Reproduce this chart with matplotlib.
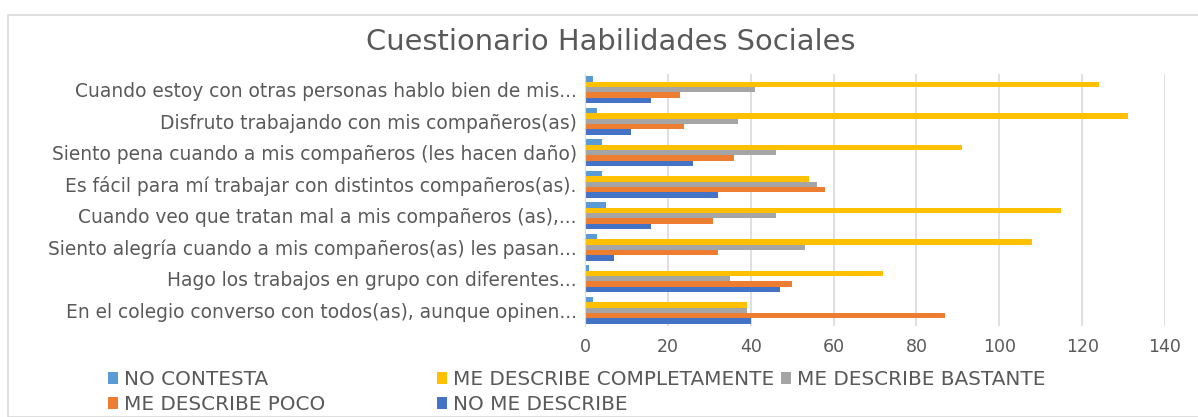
import numpy as np
import matplotlib.pyplot as plt
from matplotlib.patches import Rectangle

preguntas = [
    'Cuando estoy con otras personas hablo bien de mis...',
    'Disfruto trabajando con mis compañeros(as)',
    'Siento pena cuando a mis compañeros (les hacen daño)',
    'Es fácil para mí trabajar con distintos compañeros(as).',
    'Cuando veo que tratan mal a mis compañeros (as),...',
    'Siento alegría cuando a mis compañeros(as) les pasan...',
    'Hago los trabajos en grupo con diferentes...',
    'En el colegio converso con todos(as), aunque opinen...',
]
no_contesta = [2, 3, 4, 4, 5, 3, 1, 2]
completamente = [124, 131, 91, 54, 115, 108, 72, 39]
bastante = [41, 37, 46, 56, 46, 53, 35, 39]
poco = [23, 24, 36, 58, 31, 32, 50, 87]
no_me_describe = [16, 11, 26, 32, 16, 7, 47, 40]

series = [
    ('NO CONTESTA', no_contesta, '#5B9BD5'),
    ('ME DESCRIBE COMPLETAMENTE', completamente, '#FFC000'),
    ('ME DESCRIBE BASTANTE', bastante, '#A5A5A5'),
    ('ME DESCRIBE POCO', poco, '#ED7D31'),
    ('NO ME DESCRIBE', no_me_describe, '#4472C4'),
]

txt = '#595959'
plt.rcParams['font.family'] = 'DejaVu Sans'
fig = plt.figure(figsize=(11.98, 4.17), dpi=100)
ax = fig.add_axes([585/1198, 1 - 326/417, 580/1198, 252/417])

y = np.arange(len(preguntas))
h = 0.17
handles = {}
for i, (name, vals, col) in enumerate(series):
    b = ax.barh(y + (i - 2) * h, vals, height=h, color=col, label=name)
    handles[name] = b

ax.set_ylim(len(preguntas) - 0.5, -0.5)
ax.set_xlim(0, 140)
ax.set_xticks(range(0, 141, 20))
ax.set_yticks(y)
ax.set_yticklabels(preguntas, fontsize=13.4, color=txt)
ax.tick_params(axis='x', labelsize=12.5, colors=txt, length=0, pad=9)
ax.tick_params(axis='y', length=0, pad=6)
ax.grid(axis='x', color='#D9D9D9', linewidth=1.2)
ax.set_axisbelow(True)
for s in ['top', 'right', 'bottom']:
    ax.spines[s].set_visible(False)
ax.spines['left'].set_color('#D9D9D9')

fig.text(611/1198, 1 - 42/417, 'Cuestionario Habilidades Sociales', ha='center', va='center',
         fontsize=20.8, color=txt)

# three legend columns, placed like the Excel layout
cols = [(108, ['NO CONTESTA', 'ME DESCRIBE POCO']),
        (437, ['ME DESCRIBE COMPLETAMENTE', 'NO ME DESCRIBE']),
        (781, ['ME DESCRIBE BASTANTE'])]
for x0, names in cols:
    leg = fig.legend([handles[k] for k in names], names, loc='upper left',
                     bbox_to_anchor=(x0/1198, 1 - 370/417), frameon=False,
                     prop={'size': 14.4}, handlelength=0.5, handleheight=0.5,
                     handletextpad=0.3, labelspacing=0.3, borderpad=0, borderaxespad=0)
    for t in leg.get_texts():
        t.set_color(txt)

fig.patches.append(Rectangle((8/1198, 0), 1.2, 1 - 15/417, transform=fig.transFigure,
                             fill=False, edgecolor='#D9D9D9', linewidth=1.2))

plt.savefig('out.png', dpi=100)
